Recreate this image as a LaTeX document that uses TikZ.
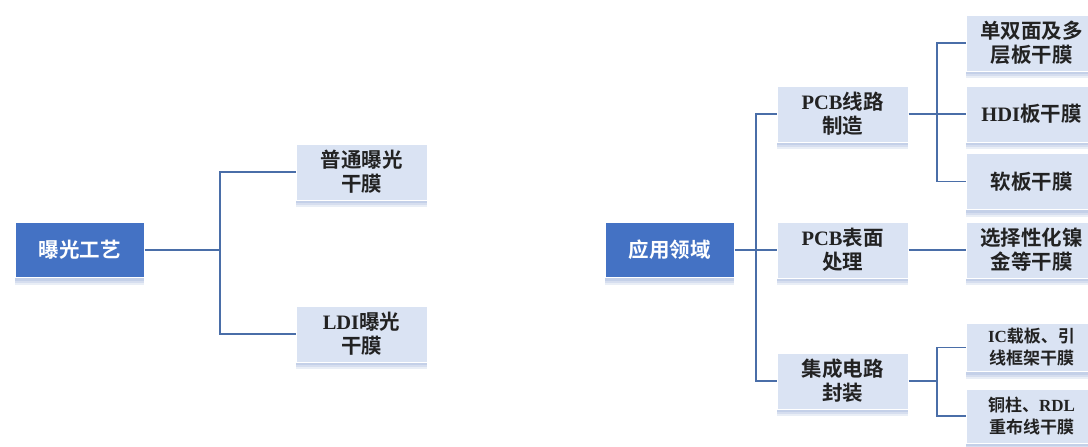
\documentclass[tikz,border=0pt]{standalone}
\usepackage{fontspec}
\setmainfont{Liberation Serif}
\newfontfamily\cjk{Noto Sans CJK SC}[BoldFont={* Bold}]
\newcommand\lat{\rmfamily\bfseries}
\definecolor{darkbox}{HTML}{4472C4}
\definecolor{lightbox}{HTML}{DAE3F3}
\definecolor{linec}{HTML}{4A6EA8}
\definecolor{shadowc}{HTML}{A9BBDD}
\definecolor{txt}{HTML}{222222}
\tikzset{
  softshadow/.style={
    preaction={fill=shadowc, fill opacity=0.25, draw=none, transform canvas={yshift=-7pt}},
    preaction={fill=shadowc, fill opacity=0.3, draw=none, transform canvas={yshift=-5pt}},
    preaction={fill=shadowc, fill opacity=0.4, draw=none, transform canvas={yshift=-3pt}}},
  base/.style={rectangle, draw=white, line width=1pt, align=center, inner sep=0pt,
    font=\cjk\bfseries\fontsize{20.5}{24}\selectfont, softshadow},
  dark/.style={base, fill=darkbox, text=white, minimum width=129pt, minimum height=55pt},
  light/.style={base, fill=lightbox, text=txt, minimum width=131pt, minimum height=56pt},
  small/.style={font=\cjk\bfseries\fontsize{17}{22}\selectfont},
  conn/.style={draw=linec, line width=1.6pt}
}
\begin{document}
\begin{tikzpicture}[x=1pt,y=-1pt]
\useasboundingbox (0,0) rectangle (1088,447);
\clip (0,0) rectangle (1088,447);
% left tree
\node[dark] (a) at (79.5,250) {曝光工艺};
\node[light] (a1) at (361.5,172) {普通曝光\\干膜};
\node[light] (a2) at (361.5,334) {{\lat LDI}曝光\\干膜};
\coordinate (ja) at (220,250);
\draw[conn] (a.east) -- (ja);
\draw[conn] (a1.west) -| (ja) |- (a2.west);
% right tree
\node[dark] (b) at (669.5,250) {应用领域};
\node[light] (b1) at (842.5,114) {{\lat PCB}线路\\制造};
\node[light] (b2) at (842.5,250) {{\lat PCB}表面\\处理};
\node[light] (b3) at (842.5,381) {集成电路\\封装};
\coordinate (jb) at (756,250);
\draw[conn] (b.east) -- (b2.west);
\draw[conn] (b1.west) -| (jb) |- (b3.west);
% third level
\node[light] (c1) at (1031.5,43) {单双面及多\\层板干膜};
\node[light] (c2) at (1031.5,114) {{\lat HDI}板干膜};
\node[light] (c3) at (1031.5,181.5) {软板干膜};
\node[light] (c4) at (1031.5,250) {选择性化镍\\金等干膜};
\node[light, small, minimum height=48pt] (c5) at (1031.5,347.5) {{\lat IC}载板、引\\线框架干膜};
\node[light, small, minimum height=54pt] (c6) at (1031.5,416) {铜柱、{\lat RDL}\\重布线干膜};
\coordinate (jc) at (937,114);
\draw[conn] (b1.east) -- (c2.west);
\draw[conn] (c1.west) -| (jc) |- (c3.west);
\draw[conn] (b2.east) -- (c4.west);
\coordinate (jd) at (937,381);
\draw[conn] (b3.east) -- (jd);
\draw[conn] (c5.west) -| (jd) |- (c6.west);
\end{tikzpicture}
\end{document}
